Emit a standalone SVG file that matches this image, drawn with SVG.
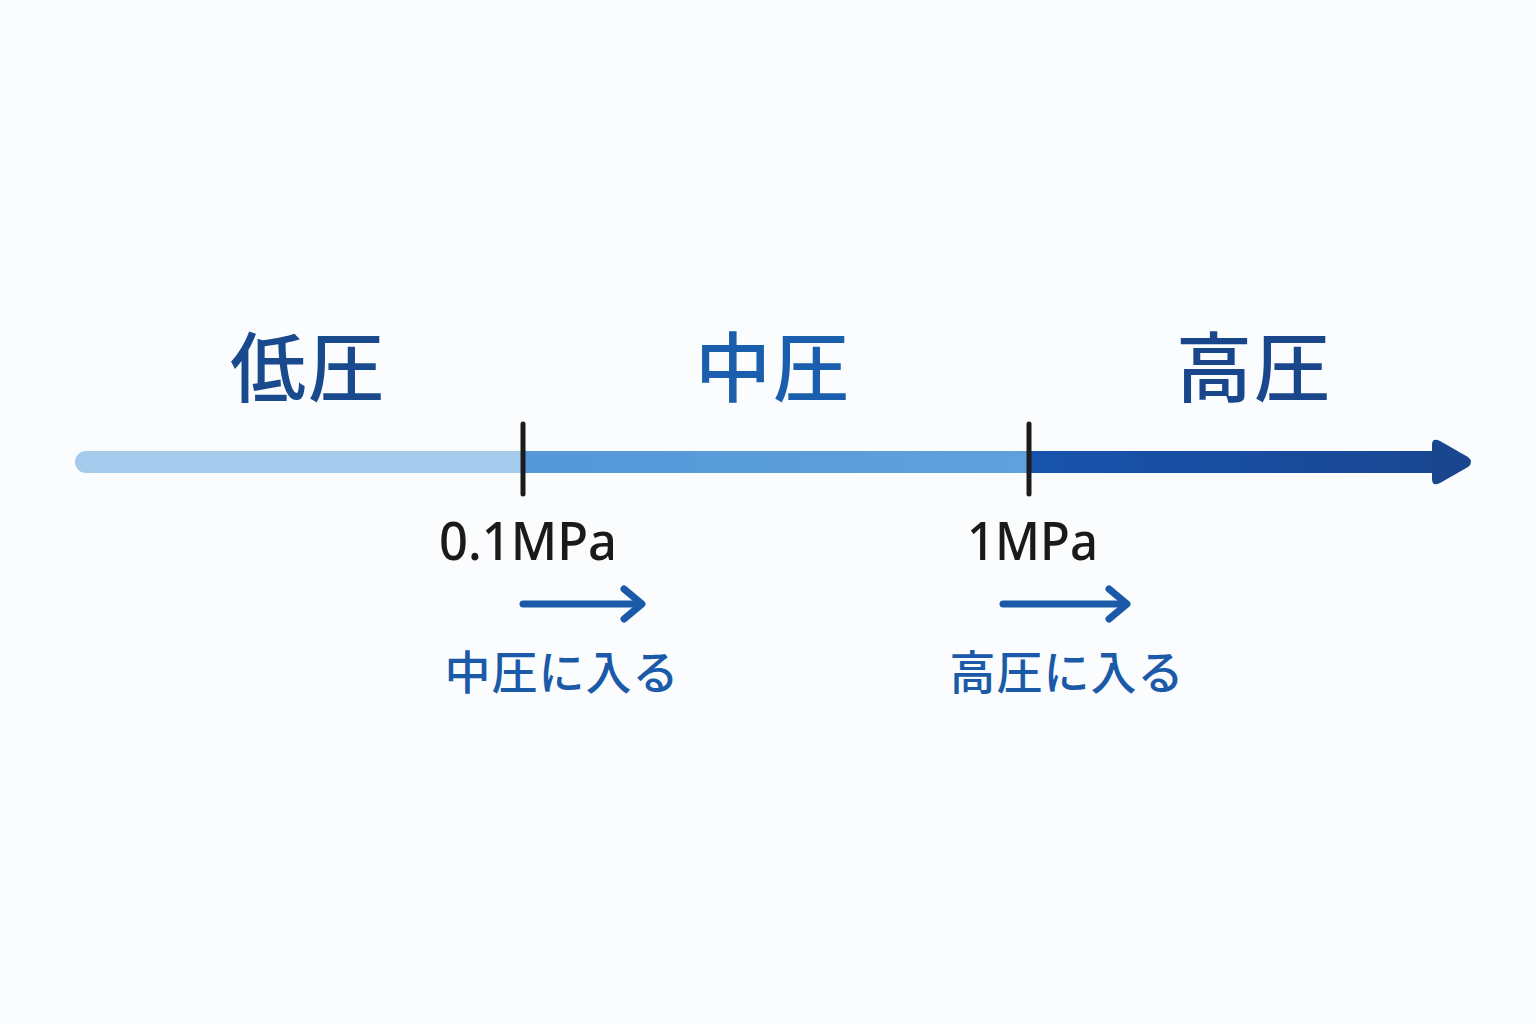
<svg xmlns="http://www.w3.org/2000/svg" width="1536" height="1024" viewBox="0 0 1536 1024">
  <defs>
    <linearGradient id="gHigh" x1="1029" y1="0" x2="1472" y2="0" gradientUnits="userSpaceOnUse">
      <stop offset="0" stop-color="#1753ad"/>
      <stop offset="1" stop-color="#1a4690"/>
    </linearGradient>
    <linearGradient id="gMid" x1="522" y1="0" x2="1029" y2="0" gradientUnits="userSpaceOnUse">
      <stop offset="0" stop-color="#5498d9"/>
      <stop offset="1" stop-color="#5fa1dc"/>
    </linearGradient>
  </defs>
  <style>
    .zone { font-family: "Noto Sans CJK JP", "Noto Sans", sans-serif; font-weight: 500; font-size: 76px; text-anchor: middle; }
    .val { font-family: "Noto Sans", "Open Sans", sans-serif; font-weight: 500; font-size: 52px; fill: #1a1a1a; }
    .enter { font-family: "Noto Sans CJK JP", sans-serif; font-weight: 500; font-size: 46px; fill: #1a5aa8; text-anchor: middle; }
    .tick { stroke: #1c1c1c; stroke-width: 5; stroke-linecap: round; }
    .small { stroke: #1a5aa8; stroke-width: 7; stroke-linecap: round; stroke-linejoin: round; fill: none; }
  </style>
  <rect width="1536" height="1024" fill="#fbfcfd"/>

  <g id="connectors">
    <g id="axis">
      <path d="M86 451 H524 V473 H86 A11 11 0 0 1 86 451 Z" fill="#a4cbec"/>
      <rect x="522" y="451" width="508" height="22" fill="url(#gMid)"/>
      <rect x="1029" y="451" width="412" height="22" fill="url(#gHigh)"/>
      <path d="M1432 445 Q1432 437 1440 441 L1468 457 Q1474 462 1468 467 L1440 483 Q1432 487 1432 479 Z" fill="#1a4690"/>
    </g>
    <g id="arrow-mid">
      <line class="small" x1="523" y1="604" x2="640" y2="604"/>
      <polyline class="small" points="624,589 642,604 624,619"/>
    </g>
    <g id="arrow-high">
      <line class="small" x1="1003" y1="604" x2="1124" y2="604"/>
      <polyline class="small" points="1109,589 1127,604 1109,619"/>
    </g>
  </g>

  <g id="tick-01">
    <line class="tick" x1="523" y1="424" x2="523" y2="494"/>
  </g>
  <g id="tick-1">
    <line class="tick" x1="1029" y1="424" x2="1029" y2="494"/>
  </g>

  <g id="label-low">
    <text class="zone" x="308" y="396" fill="#1a4a8e" letter-spacing="2">低圧</text>
  </g>
  <g id="label-mid">
    <text class="zone" x="773" y="396" fill="#1a5eae" letter-spacing="2">中圧</text>
  </g>
  <g id="label-high">
    <text class="zone" x="1254" y="396" fill="#1a468c" letter-spacing="2">高圧</text>
  </g>

  <g id="value-01">
    <text class="val" x="439" y="560" textLength="178" lengthAdjust="spacingAndGlyphs">0.1MPa</text>
  </g>
  <g id="value-1">
    <text class="val" x="967" y="560" textLength="131" lengthAdjust="spacingAndGlyphs">1MPa</text>
  </g>

  <g id="enter-mid">
    <text class="enter" x="562" y="689" letter-spacing="1">中圧に入る</text>
  </g>
  <g id="enter-high">
    <text class="enter" x="1067" y="689" letter-spacing="1">高圧に入る</text>
  </g>
</svg>
